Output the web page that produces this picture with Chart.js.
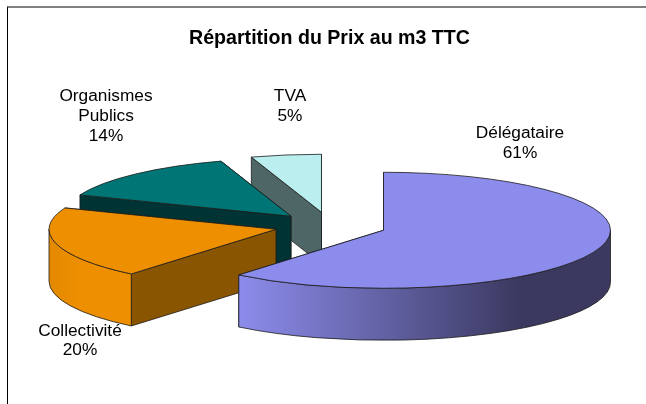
<!DOCTYPE html>
<html>
<head>
<meta charset="utf-8">
<script src="https://cdn.jsdelivr.net/npm/chart.js@4"></script>
<style>
html,body{margin:0;padding:0;background:#fff;width:646px;height:404px;overflow:hidden}
#wrap{position:absolute;left:0;top:0;width:646px;height:404px}
#frame{position:absolute;left:7px;top:6px;width:639px;height:398px;border-top:2px solid #808080;border-left:1px solid #000;box-sizing:border-box}
canvas{position:absolute;left:0;top:0}
</style>
</head>
<body>
<div id="wrap"><canvas id="c" width="646" height="404"></canvas><div id="frame"></div></div>
<script>
const categories = ["Délégataire", "Collectivité", "Organismes\nPublics", "TVA"];
const values = [61, 20, 14, 5];
const topColors = ["#8C8CEC", "#EE8F00", "#007575", "#BBEEEE"];
const cutColors = ["#8C8CEC", "#8A5500", "#003333", "#4F6666"];
const wallStops = [
  [[0, "#8C8CEC"], [0.755, "#3B3960"], [1, "#3B3960"]],
  [[0, "#E48900"], [0.4, "#EE8F00"], [1, "#EE8F00"]],
  [[0, "#003333"], [1, "#003333"]],
  [[0, "#4F6666"], [1, "#4F6666"]]
];
const explodeX = [54, -53.5, -38.5, -8];
const explodeY = [3, 2, -11, -15];
const labelX = [520, 80, 106, 290];
const labelY = [133.5, 331, 96.5, 96.5];
const pieRadius = 227;
const squash = 0.2555;
const depth = 52;

const pie3d = {
  id: "pie3d",
  beforeDatasetDraw(chart) {
    const ctx = chart.ctx;
    const arcs = chart.getDatasetMeta(0).data;
    for (let i = arcs.length - 1; i >= 0; i--) {
      const a = arcs[i];
      const cx = a.x + explodeX[i], cy = a.y + explodeY[i];
      const r = a.outerRadius, ry = r * squash;
      const s = a.startAngle, e = a.endAngle;
      const px = t => cx + r * Math.cos(t);
      const py = t => cy + ry * Math.sin(t);
      ctx.save();
      ctx.lineWidth = 0.8;
      ctx.strokeStyle = "#1c1c1c";
      ctx.lineJoin = "round";
      // straight cut faces: the far one first, the near one over it
      [e, s].forEach(t => {
        ctx.beginPath();
        ctx.moveTo(cx, cy);
        ctx.lineTo(px(t), py(t));
        ctx.lineTo(px(t), py(t) + depth);
        ctx.lineTo(cx, cy + depth);
        ctx.closePath();
        ctx.fillStyle = cutColors[i];
        ctx.fill();
        ctx.stroke();
      });
      // outer wall, only the part that faces the viewer
      const w0 = Math.max(s, 0), w1 = Math.min(e, Math.PI);
      if (w1 > w0) {
        const left = px(w1), right = px(w0);
        const g = ctx.createLinearGradient(left, 0, right, 0);
        wallStops[i].forEach(p => g.addColorStop(p[0], p[1]));
        ctx.beginPath();
        ctx.ellipse(cx, cy, r, ry, 0, w0, w1, false);
        ctx.lineTo(px(w1), py(w1) + depth);
        ctx.ellipse(cx, cy + depth, r, ry, 0, w1, w0, true);
        ctx.closePath();
        ctx.fillStyle = g;
        ctx.fill();
        ctx.stroke();
      }
      // top face: the library's own arc, squashed into an ellipse
      ctx.save();
      ctx.translate(cx, cy);
      ctx.scale(1, squash);
      ctx.translate(-a.x, -a.y);
      a.draw(ctx, chart.chartArea);
      ctx.restore();
      ctx.beginPath();
      ctx.moveTo(cx, cy);
      ctx.lineTo(px(s), py(s));
      ctx.ellipse(cx, cy, r, ry, 0, s, e, false);
      ctx.closePath();
      ctx.stroke();
      ctx.restore();
    }
    return false;
  },
  afterDraw(chart) {
    const ctx = chart.ctx;
    const total = values.reduce((p, v) => p + v, 0);
    ctx.save();
    ctx.fillStyle = "#000";
    ctx.font = "17.3px 'Liberation Sans'";
    ctx.textAlign = "center";
    ctx.textBaseline = "middle";
    categories.forEach((c, i) => {
      const lines = c.split("\n").concat(Math.round(values[i] / total * 100) + "%");
      lines.forEach((l, k) => ctx.fillText(l, labelX[i], labelY[i] + k * 19.7));
    });
    ctx.restore();
  }
};

new Chart(document.getElementById("c"), {
  type: "pie",
  data: {
    labels: categories.map(c => c.replace("\n", " ")),
    datasets: [{
      data: values,
      backgroundColor: topColors,
      borderWidth: 0,
      radius: pieRadius
    }]
  },
  options: {
    responsive: false,
    animation: false,
    layout: { padding: { left: 13, top: 0 } },
    plugins: {
      legend: { display: false },
      tooltip: { enabled: false },
      title: {
        display: true,
        text: "Répartition du Prix au m3 TTC",
        color: "#000",
        font: { family: "'Liberation Sans'", size: 19.6, weight: "bold" },
        padding: { top: 27, bottom: 0 }
      }
    }
  },
  plugins: [pie3d]
});
</script>
</body>
</html>
